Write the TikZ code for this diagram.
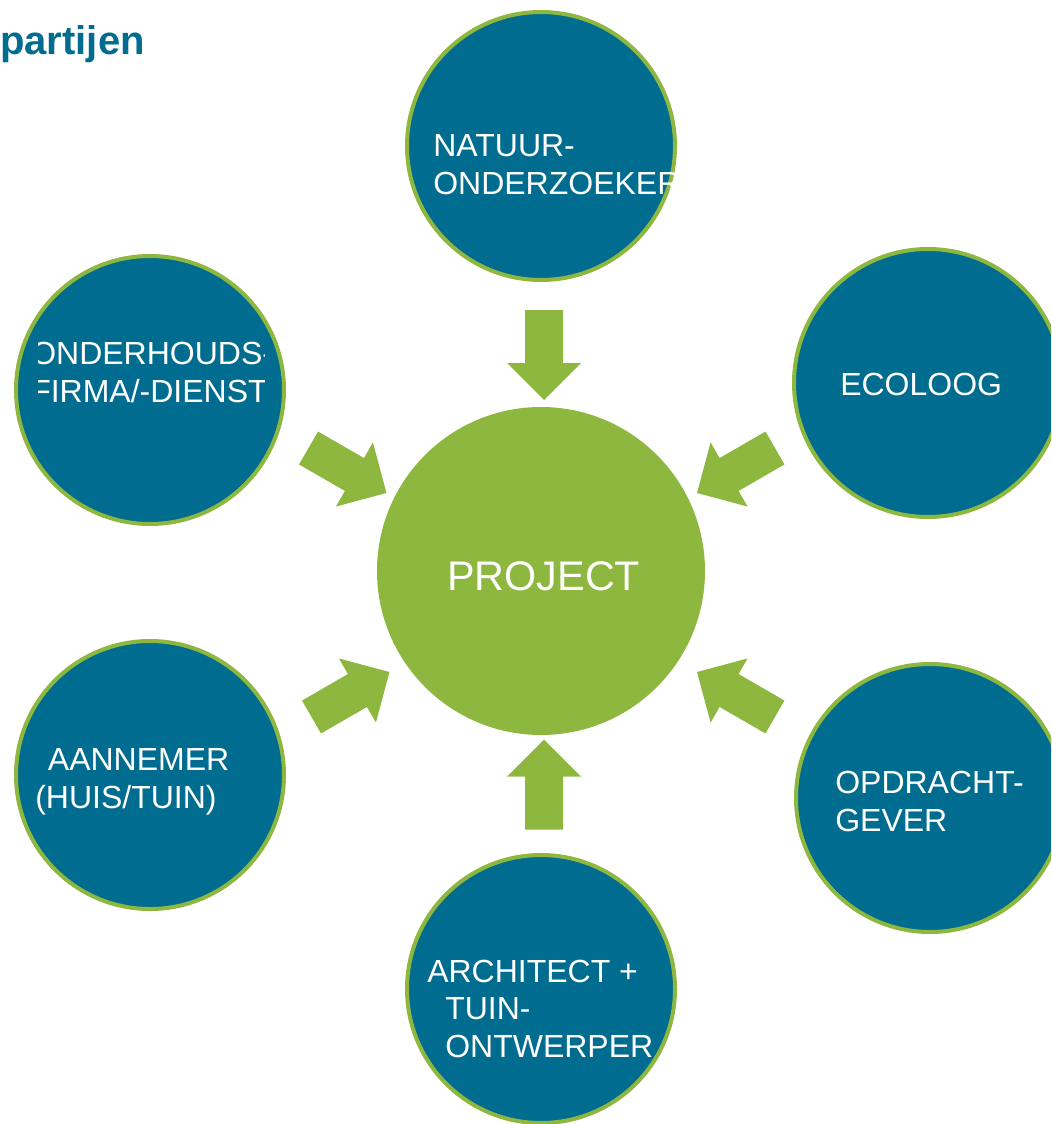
\documentclass[tikz,border=0pt]{standalone}
\usepackage{fontspec}
\setmainfont{Liberation Sans}
\usetikzlibrary{positioning}
\definecolor{kpblue}{RGB}{0,108,143}
\definecolor{kpgreen}{RGB}{141,183,62}

\begin{document}
\begin{tikzpicture}[
    x=0.75pt, y=-0.75pt,
    party/.style={circle, draw=kpgreen, fill=kpblue, line width=3pt,
                  minimum size=201pt, inner sep=0pt},
    core/.style={circle, fill=kpgreen, minimum size=246pt, inner sep=0pt},
    lbl/.style={text=white, font=\fontsize{24}{28}\selectfont, align=left,
                inner sep=0pt, anchor=base west},
    pics/blockarrow/.style={code={
        \fill[kpgreen] (-45,-19) -- (8,-19) -- (8,-37) -- (45,0)
                       -- (8,37) -- (8,19) -- (-45,19) -- cycle;}}
  ]
  \useasboundingbox (0,0) rectangle (1051,1124);
  \clip (0,0) rectangle (1051,1124);

  % circles
  \node[core]  (project)  at (541,571) {};
  \node[party] (natuur)   at (541,146) {};
  \node[party] (ecoloog)  at (928,383) {};
  \node[party] (onderh)   at (150,390) {};
  \node[party] (aannemer) at (150,775) {};
  \node[party] (opdracht) at (930,798) {};
  \node[party] (archit)   at (541,989) {};

  % arrows towards the project
  \pic[rotate=-90]  at (544,355)    {blockarrow};
  \pic[rotate=-30]  at (347.5,470.5) {blockarrow};
  \pic[rotate=30]   at (350.5,694.5) {blockarrow};
  \pic[rotate=-150] at (736,470.5)  {blockarrow};
  \pic[rotate=150]  at (736,694.5)  {blockarrow};
  \pic[rotate=90]   at (544,784.5)  {blockarrow};

  % labels (base = last line)
  \node[lbl] (natuur-txt) at (433,194) {NATUUR-\\ONDERZOEKER};
  \node[lbl] (ecoloog-txt) at (840,395) {ECOLOOG};
  \begin{scope}
    \clip (38,320) rectangle (264,420);
    \node[lbl] (onderh-txt) at (31,402) {ONDERHOUDS-\\FIRMA/-DIENST};
  \end{scope}
  \node[lbl] (aannemer-txt) at (35,808) {\hspace{9.5pt}AANNEMER\\(HUIS/TUIN)};
  \node[lbl] (opdracht-txt) at (835,831) {OPDRACHT-\\GEVER};
  \node[lbl] (archit-txt) at (427,1057)
    {ARCHITECT +\\\hspace{13.5pt}TUIN-\\\hspace{13.5pt}ONTWERPER};
  \node[lbl, font=\fontsize{31}{36}\selectfont] (project-txt) at (447,590) {PROJECT};

  \node[font=\bfseries\fontsize{30}{36}\selectfont, text=kpblue, inner sep=0pt,
        anchor=base west] (title) at (0,55) {partijen};
\end{tikzpicture}
\end{document}
